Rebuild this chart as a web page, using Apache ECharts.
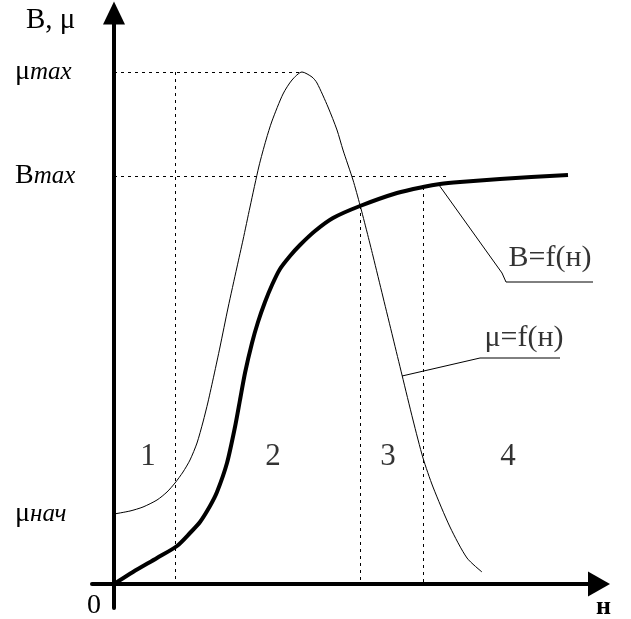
<!DOCTYPE html>
<html><head><meta charset="utf-8">
<script src="https://cdn.jsdelivr.net/npm/echarts@6/dist/echarts.min.js"></script>
<style>html,body{margin:0;padding:0;background:#fff}#c{width:631px;height:619px}</style>
</head><body><div id="c"></div>
<script>
// Permeability curve μ = f(H)
const muH   = [0, 3.2, 5.8, 8.6, 10.6, 12.2, 13.8, 15.2, 16.6, 17.8, 18.8, 20.0, 21.2, 22.8, 24.6, 25.8, 27.2, 29.0, 30.4, 31.6, 33.8, 35.6, 37.6, 39.6, 40.6, 42.8, 44.6, 45.8, 47.8, 49.2, 50.6, 51.8, 53.8, 55.8, 57.6, 59.8, 61.8, 63.8, 67.2, 70.6, 73.6];
const muVal = [14, 14.6, 15.4, 16.8, 18.4, 20.2, 22.4, 24.8, 28.2, 32.4, 36.4, 41.8, 47.4, 55.2, 63.4, 68.8, 75.4, 83.6, 88.8, 92.6, 98.0, 100.8, 102.4, 101.4, 100.2, 95.4, 90.8, 86.8, 80.8, 75.8, 70.4, 65.6, 57.4, 49.2, 41.8, 32.8, 25.2, 19.4, 11.4, 5.2, 2.4];
// Induction curve B = f(H)
const bH   = [0, 3.8, 8.6, 12.6, 15.2, 17.2, 19.2, 20.6, 22.6, 24.2, 25.2, 26.2, 27.6, 28.8, 30.2, 31.6, 33.2, 35.2, 37.2, 40.2, 43.8, 49.2, 56.6, 61.8, 65.2, 69.2, 77.2, 90.8];
const bVal = [0, 2.4, 5.2, 7.6, 10.2, 12.4, 15.6, 18.4, 24.2, 31.4, 36.8, 42.2, 48.2, 52.4, 56.4, 59.8, 63.0, 65.6, 67.8, 70.6, 73.2, 75.6, 78.2, 79.4, 80.0, 80.4, 81.0, 81.8];
const muStart = 14;      // μнач
const bMax = 81.6;       // Bmax level
const bMaxLineEnd = 67.2;
const boundaries = [12.2, 49.2, 61.8];
const regionNames = ['1', '2', '3', '4'];
const regionH = [6.8, 31.8, 54.8, 78.8];
const regionLevel = 25.4;
// callouts
const bLeaderH = [65.0, 77.6, 78.4, 95.8];
const bLeaderV = [79.8, 62.2, 60.4, 60.4];
const muLeaderH = [57.6, 73.2, 89.2];
const muLeaderV = [41.6, 45.2, 45.2];
const calloutNames = ['B=f(н)', 'μ=f(н)'];
const calloutH = [87.2, 82.0];
const calloutV = [65.2, 49.2];

const FONT = 'Liberation Serif';
const muMax = Math.max(...muVal);
const muMaxH = muH[muVal.indexOf(muMax)];
const zip = (a, b) => a.map((v, i) => [v, b[i]]);
const bAt = h => bVal[bH.indexOf(h)];

const dash = {color: '#000', width: 1, type: [3, 4]};
const markLines = [
  [{coord: [0, muMax]}, {coord: [muMaxH, muMax]}],
  [{coord: [0, bMax]}, {coord: [bMaxLineEnd, bMax]}],
  [{coord: [boundaries[0], muMax]}, {coord: [boundaries[0], 0]}],
  [{coord: [boundaries[1], bAt(boundaries[1])]}, {coord: [boundaries[1], 0]}],
  [{coord: [boundaries[2], bAt(boundaries[2])]}, {coord: [boundaries[2], 0]}]
];

const chart = echarts.init(document.getElementById('c'), null, {renderer: 'canvas'});
chart.setOption({
  animation: false,
  backgroundColor: '#fff',
  grid: {left: 92, right: 32, top: 13, bottom: 11, outerBoundsMode: 'none'},
  xAxis: {
    type: 'value', min: -4.4, max: 97,
    axisLine: {onZero: true, lineStyle: {color: '#000', width: 4}, symbol: ['none', 'triangle'], symbolSize: [25, 22]},
    axisTick: {show: false}, splitLine: {show: false}, axisLabel: {show: false}
  },
  yAxis: {
    type: 'value', min: -4.8, max: 114.2,
    axisLine: {onZero: true, lineStyle: {color: '#000', width: 4}, symbol: ['none', 'triangle'], symbolSize: [22, 23]},
    axisTick: {show: false}, splitLine: {show: false},
    axisLabel: {
      customValues: [muStart, bMax, muMax], align: 'left', margin: 77,
      formatter: v => v === muMax ? '{g|μ}{s|max}' : v === bMax ? '{g|B}{s|max}' : '{g|μ}{s|нач}',
      rich: {
        g: {fontFamily: FONT, fontSize: 28, color: '#000'},
        s: {fontFamily: FONT, fontSize: 25, fontStyle: 'italic', color: '#000'}
      }
    }
  },
  graphic: [
    {type: 'text', left: 26, top: 6, style: {text: 'B, μ', font: '29px "Liberation Serif"', fill: '#000'}},
    {type: 'text', left: 87, top: 592, style: {text: '0', font: '28px "Liberation Serif"', fill: '#000'}},
    {type: 'text', left: 596, top: 594, style: {text: 'н', font: 'bold 26px "Liberation Serif"', fill: '#000'}}
  ],
  series: [
    {type: 'line', name: 'μ', data: zip(muH, muVal), smooth: 0.25, symbol: 'none',
      lineStyle: {color: '#000', width: 1}, z: 3,
      markLine: {silent: true, symbol: 'none', label: {show: false}, lineStyle: dash, data: markLines}},
    {type: 'line', name: 'B', data: zip(bH, bVal), smooth: 0.25, symbol: 'none',
      lineStyle: {color: '#000', width: 4}, z: 4},
    {type: 'line', data: zip(bLeaderH, bLeaderV), symbol: 'none', lineStyle: {color: '#000', width: 1}, silent: true},
    {type: 'line', data: zip(muLeaderH, muLeaderV), symbol: 'none', lineStyle: {color: '#000', width: 1}, silent: true},
    {type: 'scatter', symbolSize: 1, itemStyle: {color: 'rgba(0,0,0,0)'}, silent: true,
      data: regionNames.map((n, i) => ({name: n, value: [regionH[i], regionLevel]})),
      label: {show: true, position: 'inside', formatter: '{b}', fontFamily: FONT, fontSize: 31, color: '#000'}},
    {type: 'scatter', symbolSize: 1, itemStyle: {color: 'rgba(0,0,0,0)'}, silent: true,
      data: calloutNames.map((n, i) => ({name: n, value: [calloutH[i], calloutV[i]]})),
      label: {show: true, position: 'inside', formatter: '{b}', fontFamily: FONT, fontSize: 30, color: '#000'}}
  ]
});
</script></body></html>
